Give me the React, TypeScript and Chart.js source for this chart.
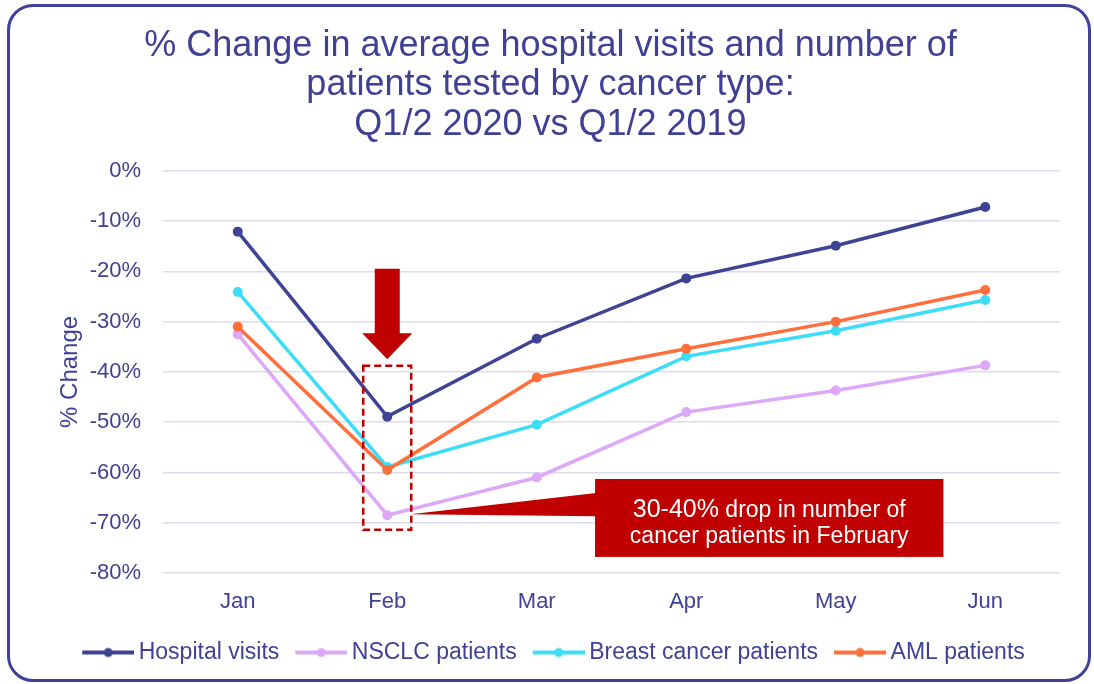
import React, { useEffect, useRef } from "react";
import { Chart, registerables } from "chart.js";

Chart.register(...registerables);

// ---------- data ----------
const months = ["Jan", "Feb", "Mar", "Apr", "May", "Jun"];
const hospitalVisits = [-12.1, -48.9, -33.4, -21.4, -14.9, -7.2];
const nsclcPatients = [-32.5, -68.5, -61.0, -48.0, -43.7, -38.7];
const breastCancerPatients = [-24.1, -58.9, -50.5, -36.9, -31.8, -25.7];
const amlPatients = [-31.0, -59.5, -41.1, -35.4, -30.0, -23.7];
const seriesNames = ["Hospital visits", "NSCLC patients", "Breast cancer patients", "AML patients"];
const yTickValues = [0, -10, -20, -30, -40, -50, -60, -70, -80];
const titleLines = [
  "% Change in average hospital visits and number of",
  "patients tested by cancer type:",
  "Q1/2 2020 vs Q1/2 2019",
];
const yAxisTitle = "% Change";
const calloutBig = "30-40%";
const calloutRest = " drop in number of";
const calloutLine2 = "cancer patients in February";

// annotation anchors (in data units: category index / percent)
const arrowAnchor = { index: 1, top: -19.5, neck: -32.3, tip: -37.5 };
const boxAnchor = { index: 1, top: -38.8, bottom: -71.4 };
const calloutAnchor = { from: 2.39, to: 4.72, top: -61.3, bottom: -76.8, baseTop: -64.1, baseBottom: -68.7, tipIndex: 1.155, tipY: -68.3 };

// ---------- style ----------
const TEXT = "#3F4194";
const RED = "#C00000";
const colors = ["#3E4394", "#DCA8F7", "#3DDCF7", "#FF6F3C"];
const FONT = "'Liberation Sans', Arial, sans-serif";

function makeLegendIcon(color: string): HTMLCanvasElement {
  const c = document.createElement("canvas");
  c.width = 65;
  c.height = 12;
  const g = c.getContext("2d")!;
  g.strokeStyle = color;
  g.lineWidth = 4;
  g.beginPath();
  g.moveTo(13, 6);
  g.lineTo(65, 6);
  g.stroke();
  g.fillStyle = color;
  g.beginPath();
  g.arc(39, 6, 4.5, 0, Math.PI * 2);
  g.fill();
  return c;
}

const annotationPlugin = {
  id: "annot",
  afterDatasetsDraw(chart: any) {
    const { ctx } = chart;
    const x = chart.scales.x;
    const y = chart.scales.y;
    ctx.save();

    // down arrow
    const ax = x.getPixelForValue(arrowAnchor.index);
    const aTop = y.getPixelForValue(arrowAnchor.top);
    const aNeck = y.getPixelForValue(arrowAnchor.neck);
    const aTip = y.getPixelForValue(arrowAnchor.tip);
    ctx.fillStyle = RED;
    ctx.beginPath();
    ctx.moveTo(ax - 12.5, aTop);
    ctx.lineTo(ax + 12.5, aTop);
    ctx.lineTo(ax + 12.5, aNeck);
    ctx.lineTo(ax + 25, aNeck);
    ctx.lineTo(ax, aTip);
    ctx.lineTo(ax - 25, aNeck);
    ctx.lineTo(ax - 12.5, aNeck);
    ctx.closePath();
    ctx.fill();

    // dashed box
    const bx = x.getPixelForValue(boxAnchor.index);
    const bTop = y.getPixelForValue(boxAnchor.top);
    const bBot = y.getPixelForValue(boxAnchor.bottom);
    ctx.strokeStyle = RED;
    ctx.lineWidth = 2.5;
    ctx.setLineDash([7, 4]);
    ctx.strokeRect(bx - 24, bTop, 48, bBot - bTop);
    ctx.setLineDash([]);

    // callout pointer
    const cl = x.getPixelForValue(calloutAnchor.from);
    const cr = x.getPixelForValue(calloutAnchor.to);
    const ct = y.getPixelForValue(calloutAnchor.top);
    const cb = y.getPixelForValue(calloutAnchor.bottom);
    ctx.fillStyle = RED;
    ctx.beginPath();
    ctx.moveTo(cl + 1, y.getPixelForValue(calloutAnchor.baseTop));
    ctx.lineTo(cl + 1, y.getPixelForValue(calloutAnchor.baseBottom));
    ctx.lineTo(x.getPixelForValue(calloutAnchor.tipIndex), y.getPixelForValue(calloutAnchor.tipY));
    ctx.closePath();
    ctx.fill();
    // callout box
    ctx.fillRect(cl, ct, cr - cl, cb - ct);

    // callout text
    ctx.fillStyle = "#FFFFFF";
    ctx.textBaseline = "alphabetic";
    const cx = (cl + cr) / 2;
    ctx.font = `25px ${FONT}`;
    const wBig = ctx.measureText(calloutBig).width;
    ctx.font = `23px ${FONT}`;
    const wRest = ctx.measureText(calloutRest).width;
    const start = cx - (wBig + wRest) / 2;
    const base1 = ct + 38;
    ctx.font = `25px ${FONT}`;
    ctx.textAlign = "left";
    ctx.fillText(calloutBig, start, base1);
    ctx.font = `23px ${FONT}`;
    ctx.fillText(calloutRest, start + wBig, base1);
    ctx.textAlign = "center";
    ctx.fillText(calloutLine2, cx, ct + 64);

    ctx.restore();
  },
};

export default function App() {
  const ref = useRef<HTMLCanvasElement>(null);

  useEffect(() => {
    const icons = colors.map(makeLegendIcon);
    const seriesData = [hospitalVisits, nsclcPatients, breastCancerPatients, amlPatients];
    const drawOrder = [0, 3, 2, 1];
    const chart = new Chart(ref.current!, {
      type: "line",
      data: {
        labels: months,
        datasets: seriesData.map((d, i) => ({
          label: seriesNames[i],
          data: d,
          borderColor: colors[i],
          backgroundColor: colors[i],
          pointBackgroundColor: colors[i],
          pointBorderWidth: 0,
          pointRadius: 5,
          borderWidth: 3.5,
          tension: 0,
          order: drawOrder[i],
        })),
      },
      options: {
        responsive: false,
        maintainAspectRatio: false,
        animation: false,
        layout: { padding: { left: 41, right: 34, top: 0, bottom: 10 } },
        plugins: {
          title: {
            display: true,
            text: titleLines,
            color: TEXT,
            font: { family: FONT, size: 36, weight: "normal", lineHeight: 1.1 },
            padding: { top: 26, bottom: 26 },
          },
          legend: {
            position: "bottom",
            labels: {
              usePointStyle: true,
              pointStyleWidth: 51,
              color: TEXT,
              font: { family: FONT, size: 23 },
              padding: 10,
              sort: (a: any, b: any) => a.datasetIndex - b.datasetIndex,
              generateLabels: (ch: any) => {
                const items = (Chart.defaults.plugins.legend.labels as any).generateLabels(ch);
                return items.map((it: any) => ({ ...it, pointStyle: icons[it.datasetIndex] }));
              },
            },
          },
          tooltip: { enabled: false },
        },
        scales: {
          x: {
            offset: true,
            grid: { display: false, drawTicks: false, offset: true },
            border: { display: false },
            ticks: { color: TEXT, font: { family: FONT, size: 22 }, padding: 16 },
            afterFit: (s: any) => {
              s.height = 58;
            },
          },
          y: {
            min: -80,
            max: 0,
            afterBuildTicks: (s: any) => {
              s.ticks = yTickValues.map((v) => ({ value: v }));
            },
            grid: { color: "#DCDCEF", lineWidth: 1.5, drawTicks: false },
            border: { display: false },
            ticks: {
              color: TEXT,
              font: { family: FONT, size: 22 },
              padding: 22,
              callback: (v: any) => `${v}%`,
            },
            title: {
              display: true,
              text: yAxisTitle,
              color: TEXT,
              font: { family: FONT, size: 24 },
              padding: { top: 14.6, bottom: 0 },
            },
            afterFit: (s: any) => {
              s.width = 122;
            },
          },
        },
      },
      plugins: [annotationPlugin],
    } as any);
    return () => chart.destroy();
  }, []);

  return (
    <div style={{ position: "absolute", left: 0, top: 0, width: 1094, height: 684, background: "#fff", overflow: "hidden" }}>
      <div
        style={{
          position: "absolute",
          left: 7,
          top: 4,
          width: 1084,
          height: 678,
          boxSizing: "border-box",
          border: "3.5px solid #3F4199",
          borderRadius: 26,
        }}
      />
      <canvas ref={ref} width={1094} height={684} style={{ position: "absolute", left: 0, top: 0, display: "block" }} />
    </div>
  );
}
